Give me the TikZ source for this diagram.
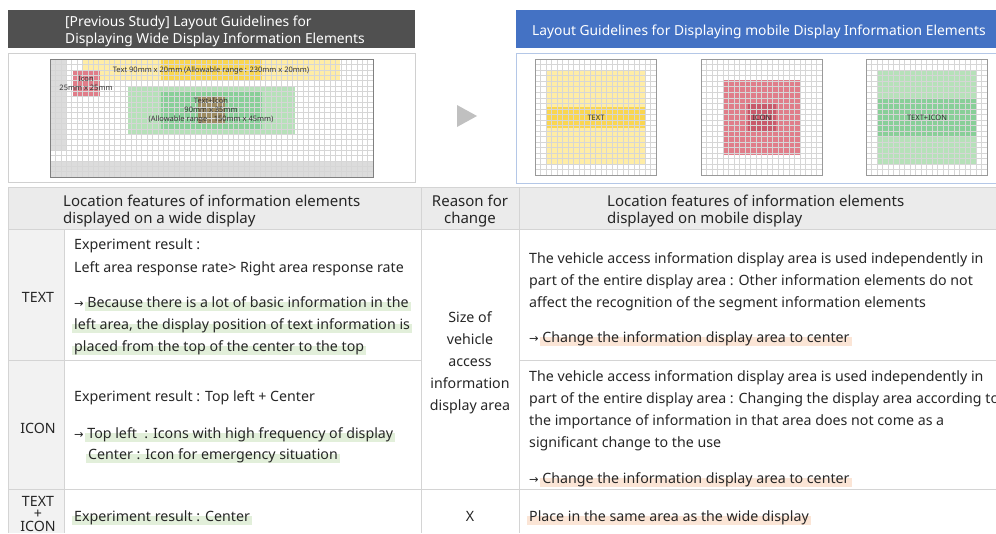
\documentclass[tikz,border=0pt]{standalone}
\usepackage{fontspec}
\setmainfont{Noto Sans}
\newfontfamily\arrowfont[Scale=0.8]{DejaVu Sans}
\definecolor{headdark}{HTML}{505050}
\definecolor{headblue}{HTML}{4472C4}
\definecolor{framegray}{HTML}{D0D0D0}
\definecolor{frameblue}{HTML}{B4C7E7}
\definecolor{gridgray}{HTML}{D6D6D6}
\definecolor{cellgray}{HTML}{EBEBEB}
\definecolor{colgray}{HTML}{F2F2F2}
\definecolor{rulegray}{HTML}{D4D4D4}
\definecolor{hlgreen}{HTML}{E2EFDA}
\definecolor{hlred}{HTML}{FBE5D6}
\definecolor{ylight}{HTML}{FFEDA6}
\definecolor{ydark}{HTML}{FAD650}
\definecolor{rlight}{HTML}{E07D89}
\definecolor{rdark}{HTML}{C85A6B}
\definecolor{glight}{HTML}{B6E1B9}
\definecolor{gdark}{HTML}{88CF98}
\definecolor{brownmix}{HTML}{9C8B62}
\definecolor{stripgray}{HTML}{DCDCDC}
\definecolor{trigray}{HTML}{C0C0C0}
\newcommand\arr{{\arrowfont →}}
\newcommand\hlmark[2]{\setbox0\hbox{#2}\rlap{\hspace{-2pt}\textcolor{#1}{\rule[-4pt]{\dimexpr\wd0+4pt\relax}{9pt}}}\box0}
\newcommand\hlg[1]{\hlmark{hlgreen}{#1}}
\newcommand\hlr[1]{\hlmark{hlred}{#1}}
\tikzset{
  txt/.style={anchor=base west, inner sep=0pt, font=\fontsize{14.2}{22}\selectfont, text=black!85},
  ctxt/.style={txt, anchor=base},
  headtxt/.style={txt, font=\fontsize{13.8}{17}\selectfont, text=white},
  coltxt/.style={txt, font=\fontsize{15}{17}\selectfont},
  tiny/.style={anchor=base, inner sep=0pt, font=\fontsize{7.5}{9}\selectfont, text=black!80},
  gridline/.style={draw=gridgray, line width=0.3pt},
  rule/.style={draw=rulegray, line width=0.6pt}
}
\begin{document}
\begin{tikzpicture}[x=1pt,y=-1pt]
\useasboundingbox (0,0) rectangle (996,533);
\clip (0,0) rectangle (996,533);
\pgfmathsetmacro{\gw}{121}
\pgfmathsetmacro{\gh}{116}
\pgfmathsetmacro{\wcell}{323/60}
\pgfmathsetmacro{\hcell}{118/22}
% headers
\fill[headdark] (8,10) rectangle (415,48);
\node[headtxt] (hdwide1) at (65,26) {[Previous Study] Layout Guidelines for};
\node[headtxt] (hdwide2) at (65,43) {Displaying Wide Display Information Elements};
\fill[headblue] (516,10) rectangle (1000,48);
\node[headtxt] (hdmob) at (532,35) {Layout Guidelines for Displaying mobile Display Information Elements};
\draw[framegray] (8.5,53.5) rectangle (415,182);
\draw[frameblue] (516.5,53.5) rectangle (1000,183);
% wide display
\fill[stripgray] (50,59) rectangle (67,151);
\fill[stripgray] (50,161) rectangle (373,177);
\fill[ylight] (83,59) rectangle (340,81);
\fill[ydark] (161,59) rectangle (262,81);
\fill[rlight] (73,70) rectangle (100,97);
\fill[glight] (128,86) rectangle (295,134);
\fill[gdark] (161,92) rectangle (262,129);
\fill[brownmix] (198,97) rectangle (225,124);
\foreach \i in {1,...,59} \draw[gridline] ({50+\i*\wcell},59) -- ++(0,118);
\foreach \j in {1,...,21} \draw[gridline] (50,{59+\j*\hcell}) -- ++(323,0);
\draw[gray, line width=0.7pt] (50,59) rectangle (373,177);
\node[tiny] (wtext) at (211,72) {Text 90mm x 20mm (Allowable range : 230mm x 20mm)};
\node[tiny] (wicon1) at (86,81) {Icon};
\node[tiny] (wicon2) at (86,90) {25mm x 25mm};
\node[tiny] (wboth1) at (211,103) {Text+Icon};
\node[tiny] (wboth2) at (211,112) {90mm x 35mm};
\node[tiny] (wboth3) at (211,121) {(Allowable range : 150mm x 45mm)};
\fill[trigray] (457,105) -- (477,116) -- (457,127) -- cycle;
% mobile display
\fill[ylight] (546,70) rectangle (646,165);
\fill[ydark] (546,107) rectangle (646,128);
\fill[rlight] (723,80) rectangle (801,155);
\fill[rdark] (748,104) rectangle (776,131);
\fill[glight] (877,70) rectangle (977,165);
\fill[gdark] (877,99) rectangle (977,136);
\foreach \gx in {535,701,866} {
  \foreach \i in {1,...,21} \draw[gridline] ({\gx+\i*\gw/22},59) -- ++(0,\gh);
  \foreach \j in {1,...,20} \draw[gridline] (\gx,{59+\j*\gh/21}) -- ++(\gw,0);
  \draw[gray!80, line width=0.6pt] (\gx,59) rectangle ++(\gw,\gh);
}
\node[tiny] (mtext) at (596,120) {TEXT};
\node[tiny] (micon) at (762,120) {ICON};
\node[tiny] (mboth) at (927,120) {TEXT+ICON};
% table
\fill[cellgray] (8,187) rectangle (1000,229);
\fill[colgray] (8,229) rectangle (64,533);
\draw[rule] (8,187) -- (1000,187);
\draw[rule] (8,229) -- (1000,229);
\draw[rule] (8,360) -- (421,360);
\draw[rule] (519,360) -- (1000,360);
\draw[rule] (8,489) -- (1000,489);
\draw[rule] (8,187) -- (8,533);
\draw[rule] (64,229) -- (64,533);
\draw[rule] (421,187) -- (421,533);
\draw[rule] (519,187) -- (519,533);
\node[coltxt] (hleft1) at (63,206) {Location features of information elements};
\node[coltxt] (hleft2) at (63,223) {displayed on a wide display};
\node[coltxt, anchor=base] (hmid1) at (470,206) {Reason for};
\node[coltxt, anchor=base] (hmid2) at (470,223) {change};
\node[coltxt] (hright1) at (607,206) {Location features of information elements};
\node[coltxt] (hright2) at (607,223) {displayed on mobile display};
\node[ctxt] (rtext) at (38,302) {TEXT};
\node[ctxt] (ricon) at (38,433) {ICON};
\node[ctxt] (rboth1) at (38,506) {TEXT};
\node[ctxt] (rboth2) at (38,518) {+};
\node[ctxt] (rboth3) at (38,531) {ICON};
\node[txt] (wa1) at (74,249) {Experiment result :};
\node[txt] (wa2) at (74,272) {Left area response rate> Right area response rate};
\node[txt] (wa3) at (74,307) {\arr\ \hlg{Because there is a lot of basic information in the}};
\node[txt] (wa4) at (74,329) {\hlg{left area, the display position of text information is}};
\node[txt] (wa5) at (74,351) {\hlg{placed from the top of the center to the top}};
\node[txt] (wb1) at (74,401) {Experiment result : Top left + Center};
\node[txt] (wb2) at (74,438) {\arr\ \hlg{Top left\ \ : Icons with high frequency of display}};
\node[txt] (wb3) at (88,459) {\hlg{Center : Icon for emergency situation}};
\node[txt] (wc1) at (74,521) {\hlg{Experiment result : Center}};
\node[ctxt] (why1) at (470,322) {Size of};
\node[ctxt] (why2) at (470,344) {vehicle};
\node[ctxt] (why3) at (470,366) {access};
\node[ctxt] (why4) at (470,388) {information};
\node[ctxt] (why5) at (470,410) {display area};
\node[ctxt] (whyx) at (470,521) {X};
\node[txt] (ma1) at (529,263) {The vehicle access information display area is used independently in};
\node[txt] (ma2) at (529,285) {part of the entire display area : Other information elements do not};
\node[txt] (ma3) at (529,307) {affect the recognition of the segment information elements};
\node[txt] (ma4) at (529,342) {\arr\ \hlr{Change the information display area to center}};
\node[txt] (mb1) at (529,381) {The vehicle access information display area is used independently in};
\node[txt] (mb2) at (529,403) {part of the entire display area : Changing the display area according to};
\node[txt] (mb3) at (529,425) {the importance of information in that area does not come as a};
\node[txt] (mb4) at (529,447) {significant change to the use};
\node[txt] (mb5) at (529,483) {\arr\ \hlr{Change the information display area to center}};
\node[txt] (mc1) at (529,521) {\hlr{Place in the same area as the wide display}};
\end{tikzpicture}
\end{document}
